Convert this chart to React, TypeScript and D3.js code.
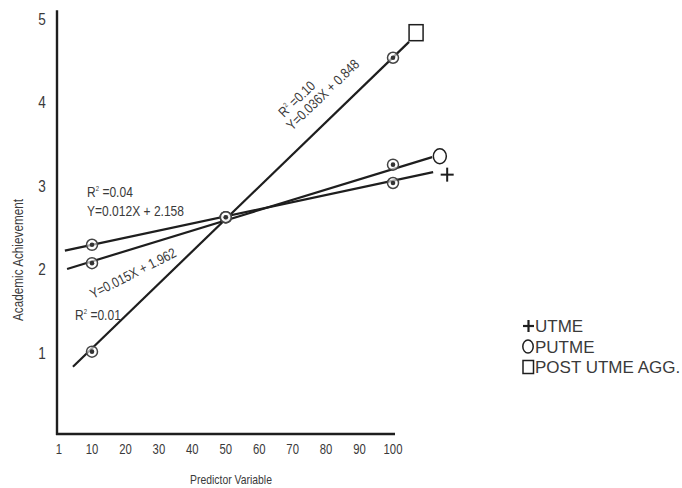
import React from "react";
import * as d3 from "d3";

const xCategories = [10, 50, 100];
const utmeValues = [2.29, 2.62, 3.03];
const putmeValues = [2.07, 2.62, 3.25];
const postAggValues = [1.01, 2.62, 4.53];

// fitted line extents [x, y]
const utmeLine: [number, number][] = [[2.6, 2.22], [112, 3.16]];
const putmeLine: [number, number][] = [[3.2, 2.0], [111.7, 3.34]];
const postAggLine: [number, number][] = [[4.8, 0.83], [104.8, 4.72]];

// end symbols [x, y]
const utmeEnd: [number, number] = [116.2, 3.13];
const putmeEnd: [number, number] = [114, 3.35];
const postAggEnd: [number, number] = [106.9, 4.83];

const xTickLabels = [1, 10, 20, 30, 40, 50, 60, 70, 80, 90, 100];
const yTickLabels = [1, 2, 3, 4, 5];
const legendLabels = ["UTME", "PUTME", "POST UTME AGG."];

const W = 682;
const H = 488;
const sans = "'Liberation Sans', Arial, sans-serif";
const ink = "#1e1e1e";
const textInk = "#3a3a3a";

function NText(props: {
  x: number;
  y: number;
  rotate?: number;
  size: number;
  sx?: number;
  anchor?: string;
  children: React.ReactNode;
}) {
  const { x, y, rotate = 0, size, sx = 0.8, anchor = "start", children } = props;
  return (
    <g transform={`translate(${x},${y}) rotate(${rotate}) scale(${sx},1)`}>
      <text x={0} y={0} textAnchor={anchor} fontFamily={sans} fontSize={size} fill={textInk}>
        {children}
      </text>
    </g>
  );
}

function R2(props: { v: string }) {
  return (
    <>
      R<tspan dy={-6} fontSize={7}>2</tspan>
      <tspan dy={6}> ={props.v}</tspan>
    </>
  );
}

export default function App() {
  const x = d3.scaleLinear().domain([1, 10, 100]).range([59, 92, 393]);
  const y = d3.scaleLinear().domain([0, 5]).range([436, 18.5]);
  const line = d3
    .line<[number, number]>()
    .x((d) => x(d[0]))
    .y((d) => y(d[1]));

  const series = [utmeValues, putmeValues, postAggValues];
  const lines = [utmeLine, putmeLine, postAggLine];

  const axisX = 57;
  const axisY = 434;

  return (
    <svg
      width={W}
      height={H}
      style={{ position: "absolute", left: 0, top: 0, background: "#fff" }}
    >
      <rect x={0} y={0} width={W} height={H} fill="#fff" />
      {/* axes */}
      <line x1={axisX} y1={y(5.1)} x2={axisX} y2={axisY + 1} stroke={ink} strokeWidth={2.4} />
      <line x1={axisX - 1} y1={axisY} x2={x(100.6)} y2={axisY} stroke={ink} strokeWidth={2.4} />
      {yTickLabels.map((t) => (
        <NText key={"y" + t} x={42} y={y(t) + 6} size={17} anchor="middle" sx={0.8}>
          {t}
        </NText>
      ))}
      {xTickLabels.map((t) => (
        <NText key={"x" + t} x={x(t)} y={453.5} size={14.5} anchor="middle" sx={0.78}>
          {t}
        </NText>
      ))}
      <NText x={231} y={484} size={13} anchor="middle" sx={0.8}>
        Predictor Variable
      </NText>
      <g transform="translate(23,260) rotate(-90)">
        <NText x={0} y={0} size={14} anchor="middle" sx={0.84}>
          Academic Achievement
        </NText>
      </g>

      {/* regression lines */}
      {lines.map((l, i) => (
        <path key={"l" + i} d={line(l) || ""} fill="none" stroke={ink} strokeWidth={2.2} />
      ))}

      {/* data markers */}
      {series.map((vals, si) =>
        vals.map((v, i) => (
          <g key={`m${si}-${i}`}>
            <circle cx={x(xCategories[i])} cy={y(v)} r={5.5} fill="#fff" fillOpacity={0.6} stroke="#444" strokeWidth={1.5} />
            <circle cx={x(xCategories[i])} cy={y(v)} r={2.3} fill="#333" />
          </g>
        ))
      )}

      {/* end symbols */}
      <g stroke={ink} fill="none">
        <line x1={x(utmeEnd[0]) - 6.5} y1={y(utmeEnd[1])} x2={x(utmeEnd[0]) + 6.5} y2={y(utmeEnd[1])} strokeWidth={2} />
        <line x1={x(utmeEnd[0])} y1={y(utmeEnd[1]) - 7} x2={x(utmeEnd[0])} y2={y(utmeEnd[1]) + 7} strokeWidth={2} />
        <ellipse cx={x(putmeEnd[0])} cy={y(putmeEnd[1])} rx={6.5} ry={7.5} strokeWidth={1.5} fill="#fff" />
        <rect x={x(postAggEnd[0]) - 7} y={y(postAggEnd[1]) - 8} width={14} height={16} strokeWidth={1.5} fill="#fff" />
      </g>

      {/* annotations */}
      <NText x={87} y={197} size={14} sx={0.86}>
        <R2 v="0.04" />
      </NText>
      <NText x={87} y={216} size={14} sx={0.86}>
        Y=0.012X + 2.158
      </NText>
      <NText x={75} y={320} size={14} sx={0.86}>
        <R2 v="0.01" />
      </NText>
      <NText x={93} y={299} size={14} sx={0.84} rotate={-27}>
        Y=0.015X + 1.962
      </NText>
      <NText x={284} y={118} size={14} sx={0.84} rotate={-44}>
        <R2 v="0.10" />
      </NText>
      <NText x={292} y={131} size={14} sx={0.84} rotate={-44}>
        Y=0.036X + 0.848
      </NText>

      {/* legend */}
      <g fontFamily={sans} fontSize={17} fill={textInk}>
        <g stroke={ink} strokeWidth={2.2}>
          <line x1={523} y1={326} x2={534} y2={326} />
          <line x1={528.5} y1={320} x2={528.5} y2={332} />
        </g>
        <ellipse cx={528} cy={346.5} rx={5.2} ry={6.5} fill="none" stroke={ink} strokeWidth={1.5} />
        <rect x={523} y={360.5} width={10.5} height={13} fill="none" stroke={ink} strokeWidth={1.5} />
        {legendLabels.map((lab, i) => (
          <text key={lab} x={535} y={332 + i * 20.5}>
            {lab}
          </text>
        ))}
      </g>
    </svg>
  );
}
